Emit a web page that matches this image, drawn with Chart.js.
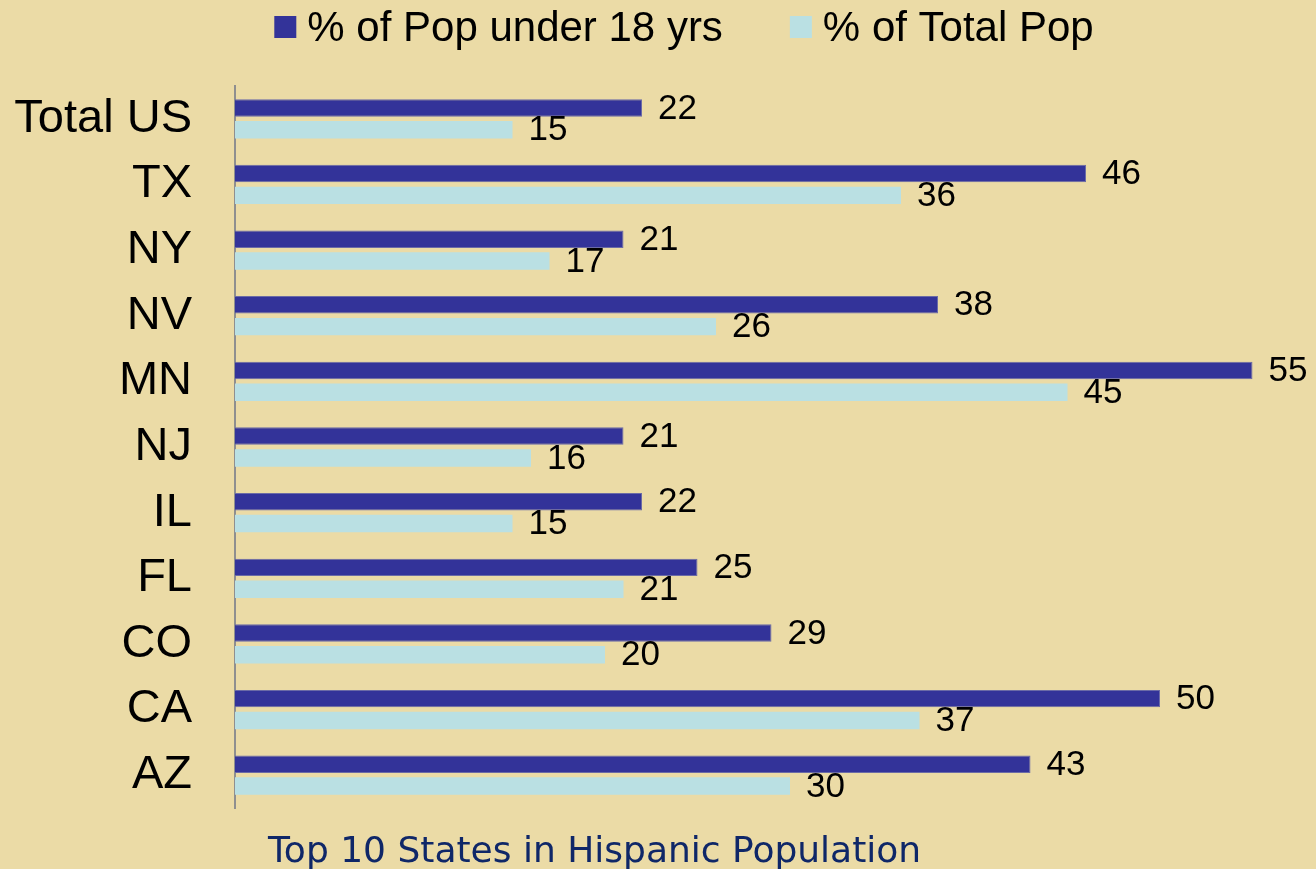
<!DOCTYPE html>
<html>
<head>
<meta charset="utf-8">
<title>Top 10 States in Hispanic Population</title>
<script src="https://cdn.jsdelivr.net/npm/chart.js@4/dist/chart.umd.min.js"></script>
<style>
  html, body { margin: 0; padding: 0; background: #ebdba6; }
  #wrap { position: relative; width: 1316px; height: 869px; }
</style>
</head>
<body>
<div id="wrap"><canvas id="chart"></canvas></div>
<script>
var stateLabels = ['Total US', 'TX', 'NY', 'NV', 'MN', 'NJ', 'IL', 'FL', 'CO', 'CA', 'AZ'];
var under18Pct = [22, 46, 21, 38, 55, 21, 22, 25, 29, 50, 43];
var totalPopPct = [15, 36, 17, 26, 45, 16, 15, 21, 20, 37, 30];
var seriesNames = ['% of Pop under 18 yrs', '% of Total Pop'];
var captionText = 'Top 10 States in Hispanic Population';

var DARK = '#333399';
var LIGHT = '#bae0e3';
var BG = '#ebdba6';
var TEXT_FONT = '"Liberation Sans", Arial, sans-serif';

// paints the page colour under everything
var bgPlugin = {
  id: 'bgFill',
  beforeDraw: function (chart) {
    var ctx = chart.ctx;
    ctx.save();
    ctx.fillStyle = BG;
    ctx.fillRect(0, 0, chart.width, chart.height);
    ctx.restore();
  },
};

// number at the end of every bar, placed from the bar elements
var valueLabelPlugin = {
  id: 'valueLabels',
  afterDatasetsDraw: function (chart) {
    var ctx = chart.ctx;
    ctx.save();
    ctx.font = '35px ' + TEXT_FONT;
    ctx.fillStyle = '#000';
    ctx.textAlign = 'left';
    ctx.textBaseline = 'middle';
    chart.data.datasets.forEach(function (ds, di) {
      var meta = chart.getDatasetMeta(di);
      meta.data.forEach(function (bar, i) {
        ctx.fillText(String(ds.data[i]), bar.x + 16, bar.y + 1);
      });
    });
    ctx.restore();
  },
};

// legend row at the top, square swatches like the original
var legendPlugin = {
  id: 'topLegend',
  afterDraw: function (chart) {
    var ctx = chart.ctx;
    var box = 22, gapText = 11, gapItem = 67;
    ctx.save();
    ctx.font = '42px ' + TEXT_FONT;
    ctx.textBaseline = 'middle';
    ctx.textAlign = 'left';
    var widths = chart.data.datasets.map(function (ds) {
      return ctx.measureText(ds.label).width;
    });
    var total = 0;
    widths.forEach(function (w, i) {
      total += box + gapText + w + (i > 0 ? gapItem : 0);
    });
    var x = chart.width / 2 + 26 - total / 2;
    var cy = 27;
    chart.data.datasets.forEach(function (ds, i) {
      ctx.fillStyle = ds.backgroundColor;
      ctx.fillRect(x, cy - box / 2, box, box);
      x += box + gapText;
      ctx.fillStyle = '#000';
      ctx.fillText(ds.label, x, cy + 2);
      x += widths[i] + gapItem;
    });
    ctx.restore();
  },
};

// caption under the plot
var captionPlugin = {
  id: 'caption',
  afterDraw: function (chart) {
    var ctx = chart.ctx;
    ctx.save();
    ctx.font = '36px "DejaVu Sans", sans-serif';
    ctx.fillStyle = '#0f2768';
    ctx.textAlign = 'left';
    ctx.textBaseline = 'alphabetic';
    ctx.fillText(captionText, chart.chartArea.left + 33, 862);
    ctx.restore();
  },
};

new Chart(document.getElementById('chart'), {
  type: 'bar',
  data: {
    labels: stateLabels,
    datasets: [
      {
        label: seriesNames[0],
        data: under18Pct,
        backgroundColor: DARK,
        borderColor: '#6b6ba6',
        borderWidth: 1,
        categoryPercentage: 0.665,
        barPercentage: 0.8,
      },
      {
        label: seriesNames[1],
        data: totalPopPct,
        backgroundColor: LIGHT,
        borderWidth: 0,
        categoryPercentage: 0.665,
        barPercentage: 0.8,
      },
    ],
  },
  options: {
    indexAxis: 'y',
    responsive: true,
    maintainAspectRatio: false,
    animation: false,
    layout: { padding: { left: 13, right: 8, top: 86, bottom: 61 } },
    plugins: {
      legend: { display: false },
      tooltip: { enabled: false },
      title: { display: false },
    },
    scales: {
      x: {
        display: false,
        min: 0,
        max: 58,
      },
      y: {
        grid: { display: false, drawTicks: false },
        border: { display: true, color: '#8f8f8f', width: 2 },
        ticks: {
          autoSkip: false,
          padding: 43,
          color: '#000',
          font: { family: TEXT_FONT, size: 47 },
        },
        afterFit: function (scale) {
          // fixed label column; the tick padding should not eat the plot height
          scale.width = 222;
          scale.paddingTop = 0;
          scale.paddingBottom = 0;
        },
      },
    },
  },
  plugins: [bgPlugin, valueLabelPlugin, legendPlugin, captionPlugin],
});
</script>
</body>
</html>
